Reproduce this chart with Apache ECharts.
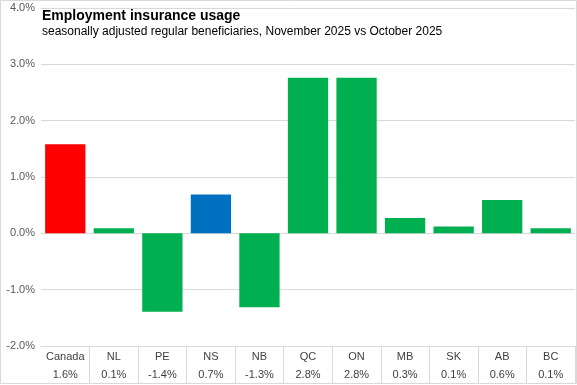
<!DOCTYPE html>
<html>
<head>
<meta charset="utf-8">
<script src="https://cdn.jsdelivr.net/npm/echarts@6/dist/echarts.min.js"></script>
<style>html,body{margin:0;padding:0;background:#fff}#c{width:577px;height:385px}</style>
</head>
<body>
<div id="c"></div>
<script>
var categories = ['Canada','NL','PE','NS','NB','QC','ON','MB','SK','AB','BC'];
var values = [1.58, 0.09, -1.39, 0.69, -1.31, 2.76, 2.76, 0.27, 0.12, 0.59, 0.09];
var barColors = ['#FF0000','#00B050','#00B050','#0070C0','#00B050','#00B050','#00B050','#00B050','#00B050','#00B050','#00B050'];
var titleText = 'Employment insurance usage';
var subtitleText = 'seasonally adjusted regular beneficiaries, November 2025 vs October 2025';

var chart = echarts.init(document.getElementById('c'), null, {renderer:'canvas'});
var font = 'Arial, "Liberation Sans", sans-serif';
chart.setOption({
  animation: false,
  backgroundColor: '#fff',
  title: {
    text: titleText, subtext: subtitleText,
    left: 37, top: 4, itemGap: 3,
    textStyle: {fontFamily: font, fontSize: 14, fontWeight: 'bold', color: '#000'},
    subtextStyle: {fontFamily: font, fontSize: 12, color: '#000'}
  },
  grid: {left: 41, right: 2, top: 8, bottom: 39, containLabel: false},
  xAxis: {
    type: 'category', data: categories, position: 'bottom',
    axisLine: {onZero: false, lineStyle: {color: '#d9d9d9'}},
    axisTick: {show: true, length: 37, lineStyle: {color: '#d9d9d9'},
      interval: function (i) { return i !== 0; }},
    axisLabel: {
      interval: 0, margin: 2,
      formatter: function (v, i) {
        return '{c|' + v + '}\n{v|' + values[i].toFixed(1) + '%}';
      },
      rich: {
        c: {fontFamily: font, fontSize: 11, color: '#404040', lineHeight: 18},
        v: {fontFamily: font, fontSize: 11, color: '#404040', lineHeight: 18}
      }
    }
  },
  yAxis: {
    type: 'value', min: -2, max: 4, interval: 1,
    axisLine: {show: false}, axisTick: {show: false},
    splitLine: {lineStyle: {color: '#d9d9d9'}},
    axisLabel: {fontFamily: font, fontSize: 11, color: '#595959', margin: 6,
      formatter: function (v) { return v.toFixed(1) + '%'; }}
  },
  series: [{
    type: 'bar', barCategoryGap: '17%',
    data: values.map(function (v, i) { return {value: v, itemStyle: {color: barColors[i]}}; })
  }],
  graphic: [{
    type: 'rect', shape: {x: 0.5, y: 0.5, width: 576, height: 383},
    style: {fill: 'none', stroke: '#d9d9d9', lineWidth: 1}, silent: true, z: 100
  }]
});
</script>
</body>
</html>
